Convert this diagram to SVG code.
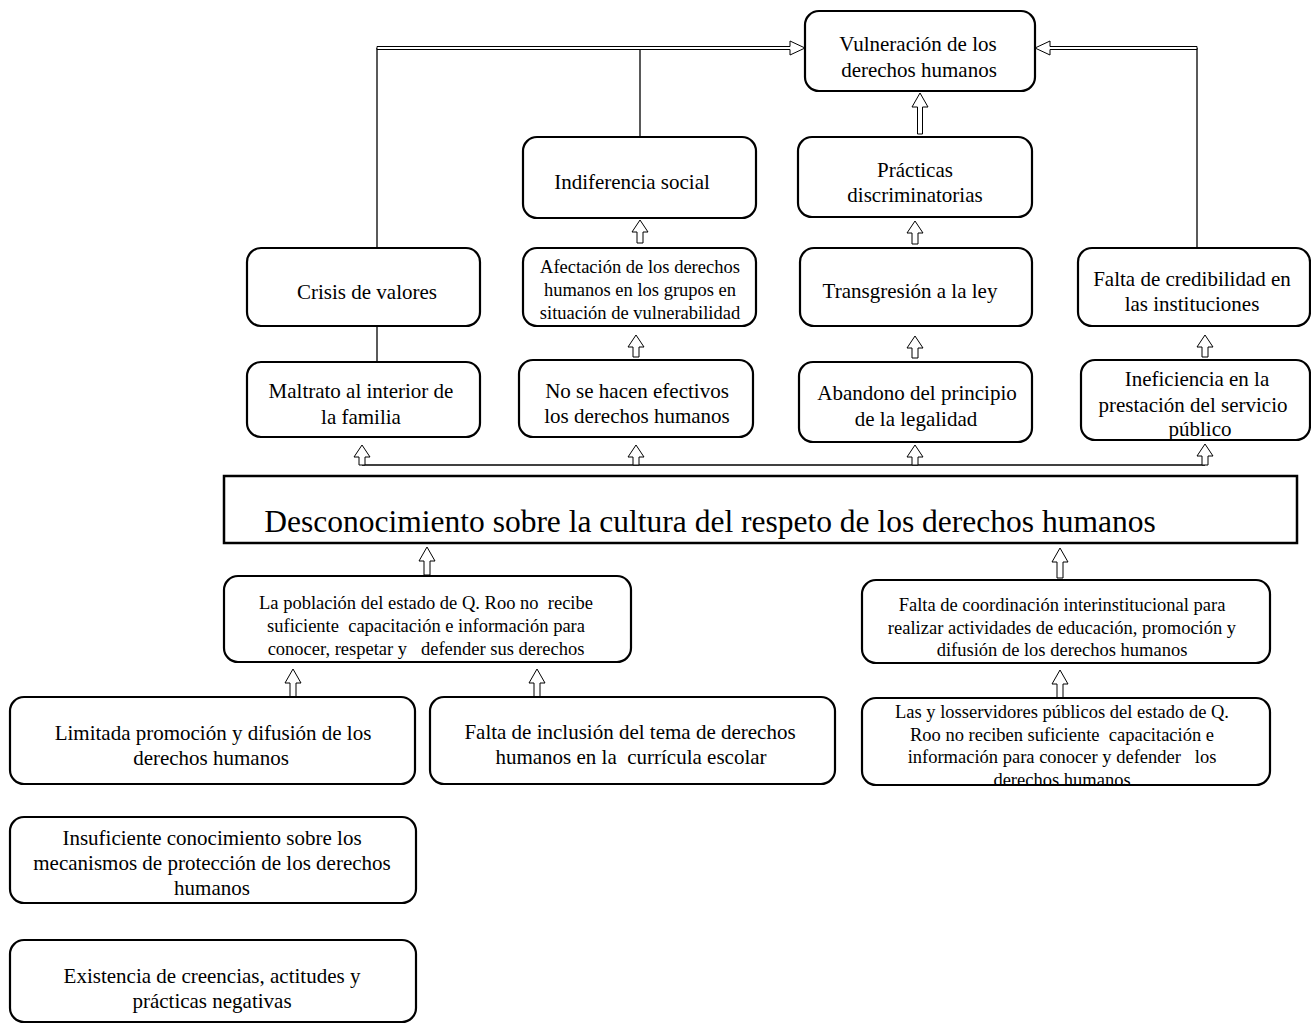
<svg xmlns="http://www.w3.org/2000/svg" width="1311" height="1024" viewBox="0 0 1311 1024">
<style>
.box{fill:#fff;stroke:#000;stroke-width:2.2}
.t{font-family:"Liberation Serif","Times New Roman",serif;font-size:21px;text-anchor:middle;fill:#000;white-space:pre}
.s{font-size:18.5px}
.m{font-size:18.5px}
.big{font-size:31.5px}
.ar{fill:#fff;stroke:#000;stroke-width:1}
.ln{fill:none;stroke:#000;stroke-width:1.3}
</style>
<rect width="1311" height="1024" fill="#fff"/>
<g id="connectors">
<line class="ln" x1="377" y1="48" x2="377" y2="248"/>
<line class="ln" x1="640" y1="48" x2="640" y2="137"/>
<line class="ln" x1="1197" y1="48" x2="1197" y2="248"/>
<line class="ln" x1="377" y1="326" x2="377" y2="362"/>
<polygon class="ar" points="377,46.5 790,46.5 790,41 805,48 790,55 790,49.5 377,49.5"/>
<polygon class="ar" points="1197,46.5 1050,46.5 1050,41 1035,48 1050,55 1050,49.5 1197,49.5"/>
<polygon class="ar" points="920,93 928,107 922.5,107 922.5,134 917.5,134 917.5,107 912,107"/>
<polygon class="ar" points="640,220 648,232 643,232 643,243 637,243 637,232 632,232"/>
<polygon class="ar" points="915,221 923,233 918,233 918,244 912,244 912,233 907,233"/>
<polygon class="ar" points="636,335 644,347 639,347 639,357 633,357 633,347 628,347"/>
<polygon class="ar" points="915,336 923,348 918,348 918,358 912,358 912,348 907,348"/>
<polygon class="ar" points="1205,335 1213,347 1208,347 1208,357 1202,357 1202,347 1197,347"/>
<line class="ln" x1="362" y1="465" x2="1205" y2="465"/>
<polygon class="ar" points="362,445 370,457 365,457 365,465 359,465 359,457 354,457"/>
<polygon class="ar" points="636,445 644,457 639,457 639,465 633,465 633,457 628,457"/>
<polygon class="ar" points="915,445 923,457 918,457 918,465 912,465 912,457 907,457"/>
<polygon class="ar" points="1205,444 1213,456 1208,456 1208,465 1202,465 1202,456 1197,456"/>
<polygon class="ar" points="427,547 435,561 430,561 430,575 424,575 424,561 419,561"/>
<polygon class="ar" points="1060,548 1068,562 1063,562 1063,578 1057,578 1057,562 1052,562"/>
<polygon class="ar" points="293,669 301,683 296,683 296,697 290,697 290,683 285,683"/>
<polygon class="ar" points="537,669 545,683 540,683 540,697 534,697 534,683 529,683"/>
<polygon class="ar" points="1060,670 1068,684 1063,684 1063,698 1057,698 1057,684 1052,684"/>
</g>
<g id="n-vulneracion"><rect class="box" x="805" y="11" width="230" height="80" rx="14"/><text class="t" x="918" y="51">Vulneración de los</text><text class="t" x="919" y="77">derechos humanos</text></g>
<g id="n-indiferencia"><rect class="box" x="523" y="137" width="233" height="81" rx="14"/><text class="t" x="632" y="189">Indiferencia social</text></g>
<g id="n-practicas"><rect class="box" x="798" y="137" width="234" height="80" rx="14"/><text class="t" x="915" y="177">Prácticas</text><text class="t" x="915" y="202">discriminatorias</text></g>
<g id="n-crisis"><rect class="box" x="247" y="248" width="233" height="78" rx="14"/><text class="t" x="367" y="299">Crisis de valores</text></g>
<g id="n-afectacion"><rect class="box" x="523" y="248" width="233" height="78" rx="14"/><text class="t s" x="640" y="273">Afectación de los derechos</text><text class="t s" x="640" y="296">humanos en los grupos en</text><text class="t s" x="640" y="319">situación de vulnerabilidad</text></g>
<g id="n-transgresion"><rect class="box" x="800" y="248" width="232" height="78" rx="14"/><text class="t" x="910" y="298">Transgresión a la ley</text></g>
<g id="n-credibilidad"><rect class="box" x="1078" y="248" width="232" height="78" rx="14"/><text class="t" x="1192" y="286">Falta de credibilidad en</text><text class="t" x="1192" y="311">las instituciones</text></g>
<g id="n-maltrato"><rect class="box" x="247" y="362" width="233" height="75" rx="14"/><text class="t" x="361" y="398">Maltrato al interior de</text><text class="t" x="361" y="424">la familia</text></g>
<g id="n-nosehacen"><rect class="box" x="519" y="360" width="234" height="77" rx="14"/><text class="t" x="637" y="398">No se hacen efectivos</text><text class="t" x="637" y="423">los derechos humanos</text></g>
<g id="n-abandono"><rect class="box" x="799" y="362" width="233" height="80" rx="14"/><text class="t" x="917" y="400">Abandono del principio</text><text class="t" x="916" y="426">de la legalidad</text></g>
<g id="n-ineficiencia"><rect class="box" x="1081" y="360" width="229" height="80" rx="14"/><text class="t" x="1197" y="386">Ineficiencia en la</text><text class="t" x="1193" y="412">prestación del servicio</text><text class="t" x="1200" y="436">público</text></g>
<g id="n-desconocimiento"><rect x="224" y="476" width="1073" height="67" fill="#fff" stroke="#000" stroke-width="2.5"/><text class="t big" x="710" y="532">Desconocimiento sobre la cultura del respeto de los derechos humanos</text></g>
<g id="n-poblacion"><rect class="box" x="224" y="576" width="407" height="86" rx="14"/><text class="t m" x="426" y="609">La población del estado de Q. Roo no  recibe</text><text class="t m" x="426" y="632">suficiente  capacitación e información para</text><text class="t m" x="426" y="655">conocer, respetar y   defender sus derechos</text></g>
<g id="n-coordinacion"><rect class="box" x="862" y="580" width="408" height="83" rx="14"/><text class="t m" x="1062" y="611">Falta de coordinación interinstitucional para</text><text class="t m" x="1062" y="634">realizar actividades de educación, promoción y</text><text class="t m" x="1062" y="656">difusión de los derechos humanos</text></g>
<g id="n-limitada"><rect class="box" x="10" y="697" width="405" height="87" rx="14"/><text class="t" x="213" y="740">Limitada promoción y difusión de los</text><text class="t" x="211" y="765">derechos humanos</text></g>
<g id="n-inclusion"><rect class="box" x="430" y="697" width="405" height="87" rx="14"/><text class="t" x="630" y="739">Falta de inclusión del tema de derechos</text><text class="t" x="631" y="764">humanos en la  currícula escolar</text></g>
<g id="n-servidores"><text class="t m" x="1062" y="718">Las y losservidores públicos del estado de Q.</text><text class="t m" x="1062" y="741">Roo no reciben suficiente  capacitación e</text><text class="t m" x="1062" y="763">información para conocer y defender   los</text><text class="t m" x="1062" y="786">derechos humanos</text><rect x="862" y="698" width="408" height="87" rx="14" fill="none" stroke="#000" stroke-width="2.2"/></g>
<g id="n-insuficiente"><rect class="box" x="10" y="817" width="406" height="86" rx="14"/><text class="t" x="212" y="845">Insuficiente conocimiento sobre los</text><text class="t" x="212" y="870">mecanismos de protección de los derechos</text><text class="t" x="212" y="895">humanos</text></g>
<g id="n-existencia"><rect class="box" x="10" y="940" width="406" height="82" rx="14"/><text class="t" x="212" y="983">Existencia de creencias, actitudes y</text><text class="t" x="212" y="1008">prácticas negativas</text></g>
</svg>
